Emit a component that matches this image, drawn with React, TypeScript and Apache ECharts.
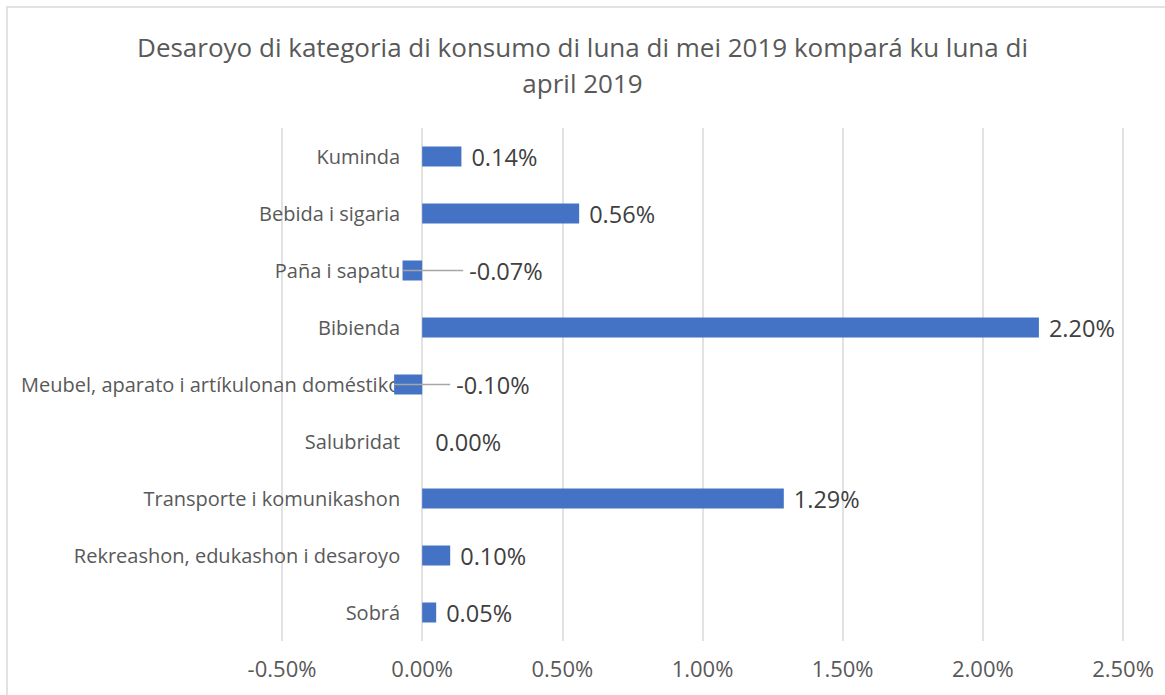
import React, { useEffect, useRef } from "react";
import * as echarts from "echarts";

const titleText = "Desaroyo di kategoria di konsumo di luna di mei 2019 kompará ku luna di\napril 2019";
const categories = [
  "Kuminda",
  "Bebida i sigaria",
  "Paña i sapatu",
  "Bibienda",
  "Meubel, aparato i artíkulonan doméstiko",
  "Salubridat",
  "Transporte i komunikashon",
  "Rekreashon, edukashon i desaroyo",
  "Sobrá",
];
const values = [0.14, 0.56, -0.07, 2.2, -0.1, 0.0, 1.29, 0.1, 0.05];
const axisMin = -0.5;
const axisMax = 2.5;
const axisStep = 0.5;
// label distance (px) from bar end; negatives are pushed right of zero with leader lines
const labelDistance = [10, 10, 47, 10, 34, 13, 10, 10, 10];

const FONT = "'Open Sans', 'Noto Sans', sans-serif";
const W = 1165;
const H = 695;
const GRID = { left: 282, right: 42, top: 128, bottom: 54 };

export default function App() {
  const ref = useRef<HTMLDivElement>(null);
  useEffect(() => {
    if (!ref.current) return;
    const chart = echarts.init(ref.current, null, { renderer: "svg" });
    const plotWidth = W - GRID.left - GRID.right;
    const zeroOffset = ((0 - axisMin) / (axisMax - axisMin)) * plotWidth;
    const barData = values.map((v, i) => ({
      value: v,
      label: { distance: labelDistance[i] },
    }));
    const leaderData = values
      .map((v, i) => [v, i, labelDistance[i]])
      .filter((d) => d[0] < 0);
    chart.setOption({
      animation: false,
      textStyle: { fontFamily: FONT },
      title: {
        text: titleText,
        left: "center",
        top: 24,
        textStyle: {
          fontFamily: FONT,
          fontSize: 26,
          fontWeight: "normal",
          color: "#595959",
          lineHeight: 36,
        },
      },
      graphic: [
        {
          type: "rect",
          shape: { x: 7, y: 7, width: 1300, height: 900 },
          style: { fill: "none", stroke: "#d9d9d9", lineWidth: 1.5 },
          silent: true,
        },
      ],
      grid: {
        ...GRID,
        containLabel: false,
        outerBoundsMode: "none",
      },
      xAxis: {
        type: "value",
        min: axisMin,
        max: axisMax,
        interval: axisStep,
        axisLine: { show: false },
        axisTick: { show: false },
        splitLine: { show: true, lineStyle: { color: "#d9d9d9", width: 1.5 } },
        axisLabel: {
          fontFamily: FONT,
          fontSize: 22,
          color: "#595959",
          margin: 16,
          formatter: (v: number) => v.toFixed(2) + "%",
        },
      },
      yAxis: {
        type: "category",
        data: categories,
        inverse: true,
        offset: -zeroOffset,
        axisLine: { show: false, onZero: false },
        axisTick: { show: false },
        axisLabel: {
          fontFamily: FONT,
          fontSize: 20,
          color: "#595959",
          margin: 22,
        },
      },
      series: [
        {
          type: "bar",
          data: barData,
          barWidth: 20,
          itemStyle: { color: "#4472C4" },
          z: 2,
          label: {
            show: true,
            position: "right",
            fontFamily: FONT,
            fontSize: 23.5,
            color: "#404040",
            formatter: (p: any) => Number(p.value).toFixed(2) + "%",
          },
        },
        {
          type: "custom",
          data: leaderData,
          encode: { x: 0, y: 1 },
          z: 3,
          silent: true,
          renderItem: (params: any, api: any) => {
            const start = api.coord([api.value(0), api.value(1)]);
            const zero = api.coord([0, api.value(1)]);
            const end = zero[0] + api.value(2) - 6;
            return {
              type: "line",
              shape: { x1: start[0], y1: start[1], x2: end, y2: start[1] },
              style: { stroke: "#a6a6a6", lineWidth: 1.5 },
            };
          },
        },
      ],
    });
    return () => chart.dispose();
  }, []);
  return (
    <div
      ref={ref}
      style={{ position: "fixed", left: 0, top: 0, width: W, height: H, background: "#fff" }}
    />
  );
}
